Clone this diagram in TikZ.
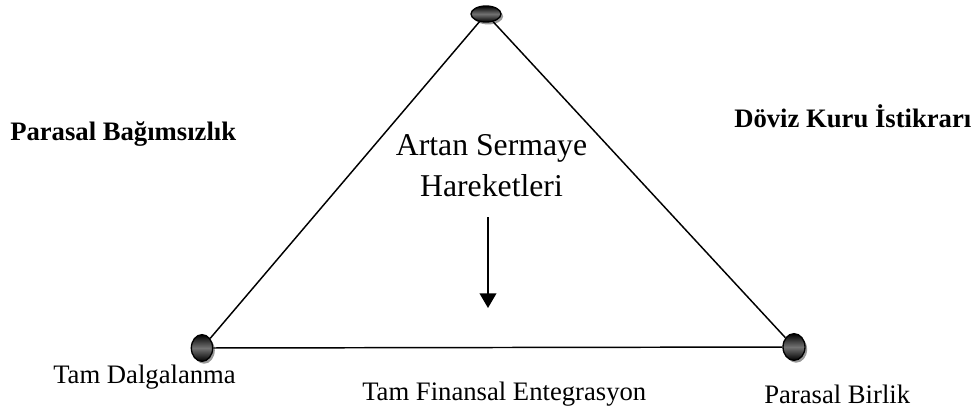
\documentclass[tikz,border=0pt]{standalone}
\usepackage{fontspec}
\setmainfont{Liberation Serif}
\usepackage{tikz}
\usetikzlibrary{shapes.geometric,shadows,arrows.meta}

\tikzset{
    knot/.style={ellipse, draw=black, line width=1pt, inner sep=0pt,
        top color=black, bottom color=black, middle color=black!55,
        drop shadow={shadow xshift=1.6pt, shadow yshift=-1.8pt, fill=black!40, opacity=1}},
    side/.style={font=\fontsize{20}{24}\selectfont, inner sep=0pt},
    corner/.style={font=\fontsize{20}{24}\selectfont\bfseries, inner sep=0pt}
}

\begin{document}
\begin{tikzpicture}[x=0.75pt, y=-0.75pt]
    \useasboundingbox (0,0) rectangle (976,412);

    % Corner points of the triangle
    \node[knot, minimum width=22.5pt, minimum height=12pt] (trilemTop) at (486,14) {};
    \node[knot, minimum width=16pt, minimum height=20pt] (trilemLeft) at (202,348) {};
    \node[knot, minimum width=16.5pt, minimum height=20pt] (trilemRight) at (794,347) {};

    % Sides
    \draw[line width=1.1pt] (trilemTop) -- (trilemLeft);
    \draw[line width=1.1pt] (trilemLeft) -- (trilemRight);
    \draw[line width=1.1pt] (trilemRight) -- (trilemTop);

    % Goals
    \node[corner, anchor=base west] (parasalBag) at (10,140) {Parasal Bağımsızlık};
    \node[corner, anchor=base west] (dovizKuru) at (734,127) {Döviz Kuru İstikrarı};

    % Regimes
    \node[side, anchor=base west] (tamDalga) at (53,383) {Tam Dalgalanma};
    \node[side, anchor=base west] (tamFinans) at (362,400) {Tam Finansal Entegrasyon};
    \node[side, anchor=base west] (parasalBir) at (764,403) {Parasal Birlik};

    % Capital movements
    \node[align=center, inner sep=0pt, font=\fontsize{23.8}{30.75}\selectfont, anchor=base]
        (sermaye) at (491.5,196) {Artan Sermaye\\Hareketleri};
    \coordinate (okBas) at (488,217);
    \coordinate (okUc) at (488,308);
    \draw[-{Triangle[width=12.5pt, length=11pt]}, line width=1.3pt] (okBas) -- (okUc);
\end{tikzpicture}
\end{document}
